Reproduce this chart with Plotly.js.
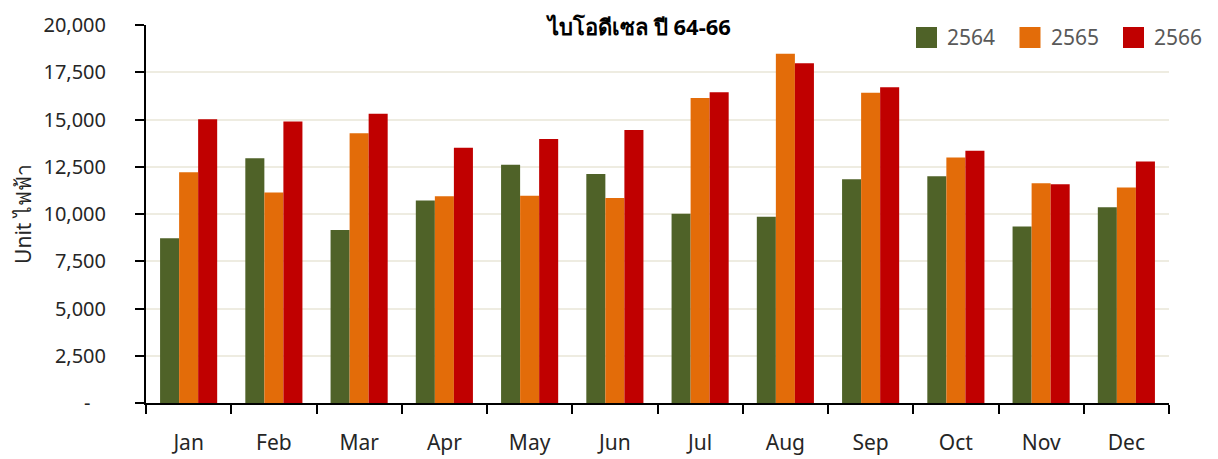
<!DOCTYPE html>
<html>
<head>
<meta charset="utf-8">
<script src="https://cdn.plot.ly/plotly-3.0.1.min.js"></script>
<style>html,body{margin:0;padding:0;background:#fff;}#chart{width:1218px;height:459px;}</style>
</head>
<body>
<div id="chart"></div>
<script>
const months = ['Jan','Feb','Mar','Apr','May','Jun','Jul','Aug','Sep','Oct','Nov','Dec'];
const seriesNames = ['2564','2565','2566'];
const values2564 = [8720, 12950, 9150, 10710, 12600, 12110, 10010, 9850, 11840, 12000, 9340, 10360];
const values2565 = [12210, 11140, 14270, 10940, 10960, 10850, 16140, 18480, 16420, 12990, 11630, 11400];
const values2566 = [15010, 14890, 15310, 13500, 13970, 14450, 16440, 17970, 16700, 13340, 11580, 12780];
const yTickVals = [0, 2500, 5000, 7500, 10000, 12500, 15000, 17500, 20000];
const yTickText = ['-\u00a0\u00a0\u00a0', '2,500', '5,000', '7,500', '10,000', '12,500', '15,000', '17,500', '20,000'];
const colors = ['#4F6228', '#E36C09', '#C00000'];
const chartTitle = 'ไบโอดีเซล ปี 64-66';
const yTitle = 'Unit ไฟฟ้า';

const allValues = [values2564, values2565, values2566];
const font = '"Noto Sans", "Open Sans", sans-serif';

const traces = allValues.map((vals, i) => ({
  type: 'bar',
  name: seriesNames[i],
  x: months,
  y: vals,
  marker: {color: colors[i], line: {width: 0}},
  hoverinfo: 'x+y+name'
}));

// Custom legend (large square swatches like the original), positioned in paper space
const plotL = 146, plotR = 1169, plotT = 25, plotB = 403;
const px2x = p => (p - plotL) / (plotR - plotL);
const px2y = p => (plotB - p) / (plotB - plotT);
const legendStart = 916, legendStep = 103.5, swatch = 21, legendTop = 27;
const shapes = [{
  type: 'rect', xref: 'paper', yref: 'paper', layer: 'between',
  x0: px2x(891), x1: px2x(1215), y0: px2y(52), y1: px2y(10),
  fillcolor: '#ffffff', line: {width: 0}
}];
const annotations = [];
seriesNames.forEach((name, i) => {
  const x0 = legendStart + i * legendStep;
  shapes.push({
    type: 'rect', xref: 'paper', yref: 'paper', layer: 'above',
    x0: px2x(x0), x1: px2x(x0 + swatch), y0: px2y(legendTop + swatch), y1: px2y(legendTop),
    fillcolor: colors[i], line: {width: 0}
  });
  annotations.push({
    xref: 'paper', yref: 'paper', x: px2x(x0 + swatch + 8), y: px2y(legendTop + swatch / 2),
    xanchor: 'left', yanchor: 'middle', showarrow: false, text: name,
    font: {family: font, size: 21, color: '#595959'}
  });
});

const layout = {
  width: 1218, height: 459,
  margin: {l: plotL, r: 1218 - plotR, t: plotT, b: 459 - plotB},
  paper_bgcolor: '#ffffff', plot_bgcolor: '#ffffff',
  barmode: 'group', bargap: 0.33, bargroupgap: 0,
  font: {family: font, color: '#262626'},
  title: {
    text: '<b>' + chartTitle + '</b>',
    font: {family: font, size: 22, color: '#000000'},
    x: 0.525, xanchor: 'center', y: 0.94, yanchor: 'middle'
  },
  showlegend: false,
  shapes: shapes,
  annotations: annotations,
  xaxis: {
    type: 'category',
    showline: true, linecolor: '#000000', linewidth: 2,
    ticks: 'outside', tickson: 'boundaries', ticklen: 9, tickwidth: 2, tickcolor: '#000000',
    tickfont: {family: font, size: 21, color: '#262626'},
    ticklabelstandoff: 20,
    showgrid: false
  },
  yaxis: {
    range: [0, 20000],
    tickvals: yTickVals, ticktext: yTickText,
    showline: true, linecolor: '#000000', linewidth: 2,
    ticks: 'outside', ticklen: 9, tickwidth: 2, tickcolor: '#000000',
    tickfont: {family: font, size: 20, color: '#262626'},
    ticklabelstandoff: 25,
    showgrid: true, gridcolor: '#EEECE1', gridwidth: 2,
    zeroline: false,
    title: {text: yTitle, font: {family: font, size: 21, color: '#262626'}, standoff: 6}
  }
};

Plotly.newPlot('chart', traces, layout, {displayModeBar: false, staticPlot: true});
</script>
</body>
</html>
